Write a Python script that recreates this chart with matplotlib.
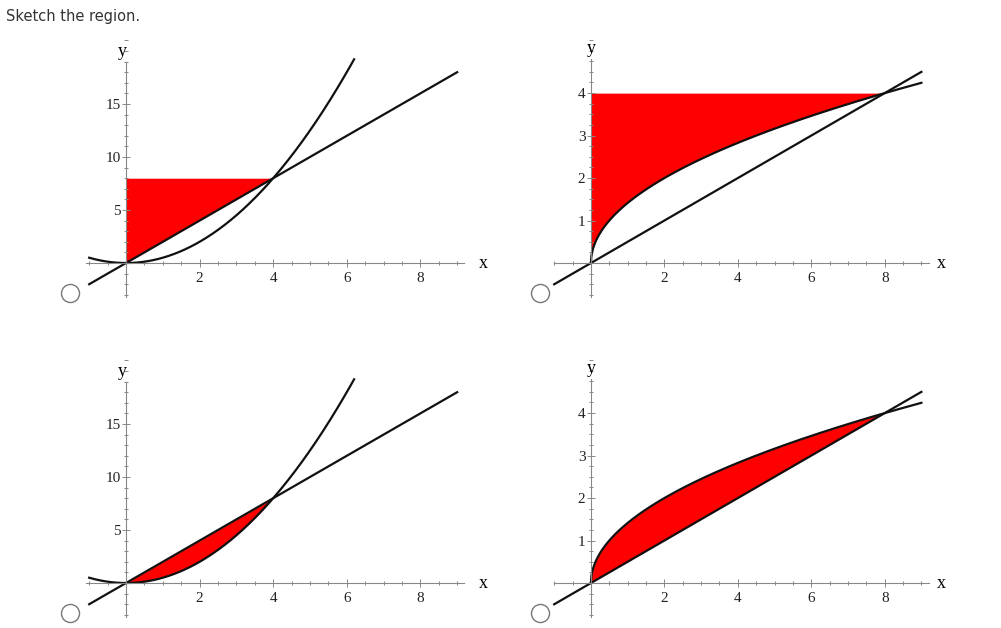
import matplotlib.pyplot as plt
import numpy as np
from matplotlib.lines import Line2D
from matplotlib.ticker import MultipleLocator

W, H = 1001, 628

# curves: parabola y = x^2/2, line y = 2x (left panels); root y = sqrt(2x), line y = x/2 (right panels)
x_ticks = [2, 4, 6, 8]
left_yticks = [5, 10, 15]
right_yticks = [1, 2, 3, 4]
intersect_left = 4
intersect_right = 8
top_left = 8
top_right = 4

SERIF = "Liberation Serif"


def px_axes(fig, x0, y0, x1, y1):
    return fig.add_axes([x0 / W, 1 - y1 / H, (x1 - x0) / W, (y1 - y0) / H])


def style(ax, xlim, ylim, yticks, ymin_minor, xb, yb):
    ax.set_xlim(*xlim)
    ax.set_ylim(*ylim)
    ax.patch.set_alpha(0)
    for s in ("top", "right"):
        ax.spines[s].set_visible(False)
    ax.spines["left"].set_position(("data", 0))
    ax.spines["bottom"].set_position(("data", 0))
    ax.spines["left"].set_bounds(*yb)
    ax.spines["bottom"].set_bounds(*xb)
    for s in ("left", "bottom"):
        ax.spines[s].set_color("#888888")
        ax.spines[s].set_linewidth(0.8)
    ax.set_xticks(x_ticks)
    ax.set_yticks(yticks)
    ax.xaxis.set_minor_locator(MultipleLocator(0.5))
    ax.yaxis.set_minor_locator(MultipleLocator(ymin_minor))
    ax.tick_params(which="both", direction="inout", colors="#888888", labelcolor="#222222",
                   labelsize=11, width=0.7)
    ax.tick_params(which="major", length=6)
    ax.tick_params(which="minor", length=3)
    ax.tick_params(axis="y", pad=1)
    for t in ax.get_xticklabels() + ax.get_yticklabels():
        t.set_fontfamily(SERIF)


fig = plt.figure(figsize=(W / 100, H / 100), dpi=100)
fig.text(6 / W, 1 - 16 / H, "Sketch the region.", fontsize=10.5, color="#333333",
         family="DejaVu Sans", va="center")


def left_panel(dy, fill_mode):
    ax = px_axes(fig, 80, 40 + dy, 470, 300 + dy)
    style(ax, (-1.25, 9.35), (-3.49, 21.04), left_yticks, 1, (-1.1, 9.2), (-3.2, 19))
    x = np.linspace(-1, 9, 300)
    xp = np.linspace(-1, 6.2, 300)
    if fill_mode == "top":
        xf = np.linspace(0, intersect_left, 200)
        ax.fill_between(xf, 2 * xf, top_left, color="red", lw=0)
    else:
        xf = np.linspace(0, intersect_left, 200)
        ax.fill_between(xf, xf ** 2 / 2, 2 * xf, color="red", lw=0)
    ax.plot(x, 2 * x, color="#111111", lw=1.6)
    ax.plot(xp, xp ** 2 / 2, color="#111111", lw=1.6)
    ax.text(-0.1, 20.0, "y", family=SERIF, fontsize=13, ha="center", va="center")
    ax.text(9.7, 0, "x", family=SERIF, fontsize=13, ha="center", va="center")
    return ax


def right_panel(dy, fill_mode):
    ax = px_axes(fig, 545, 40 + dy, 935, 300 + dy)
    style(ax, (-1.25, 9.37), (-0.87, 5.25), right_yticks, 0.25, (-1.0, 9.2), (-0.8, 4.8))
    x = np.linspace(-1, 9, 300)
    xr = np.linspace(0, 9, 600)
    if fill_mode == "top":
        xf = np.linspace(0, intersect_right, 400)
        ax.fill_between(xf, np.sqrt(2 * xf), top_right, color="red", lw=0)
    else:
        xf = np.linspace(0, intersect_right, 400)
        ax.fill_between(xf, xf / 2, np.sqrt(2 * xf), color="red", lw=0)
    ax.plot(x, x / 2, color="#111111", lw=1.6)
    ax.plot(xr, np.sqrt(2 * xr), color="#111111", lw=1.6)
    ax.text(0.0, 5.05, "y", family=SERIF, fontsize=13, ha="center", va="center")
    ax.text(9.55, 0, "x", family=SERIF, fontsize=13, ha="center", va="center")
    return ax


left_panel(0, "top")
right_panel(0, "top")
left_panel(320, "between")
right_panel(320, "between")

for cx, cy in [(70, 293), (540, 293), (70, 613), (540, 613)]:
    fig.add_artist(Line2D([cx / W], [1 - cy / H], marker="o", markersize=13,
                          mfc="white", mec="#777777", mew=1.0, transform=fig.transFigure))

fig.savefig("out.png", dpi=100, facecolor="white")
